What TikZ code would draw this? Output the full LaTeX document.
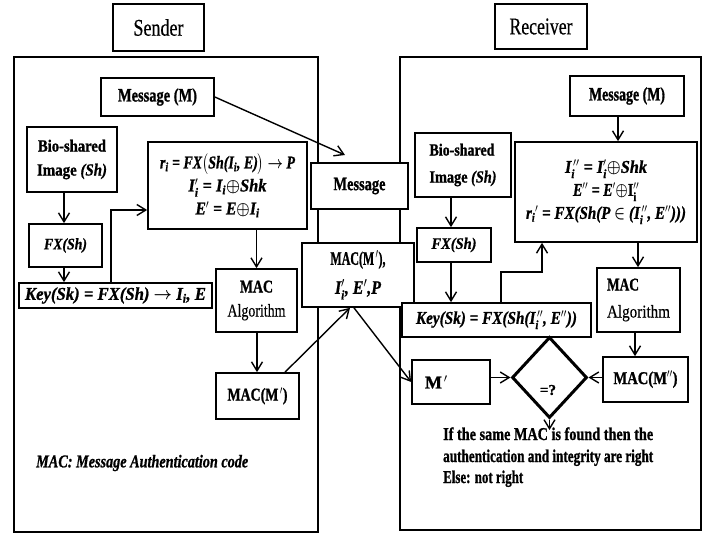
\documentclass[tikz,border=0pt]{standalone}
\usepackage{fontspec}
\usepackage{amsmath}
\setmainfont{Liberation Serif}[
  UprightFeatures={FakeBold=0.4},
  BoldFeatures={FakeBold=1.2},
  BoldItalicFeatures={FakeBold=1.0}]
\usetikzlibrary{arrows.meta,shapes.geometric,calc}
% set a line of text to a given width, keeping its height
\newcommand{\fitw}[2]{\resizebox{#1pt}{\height}{#2}}
\newcommand{\bo}[1]{\boldsymbol{#1}}
\begin{document}
\begin{tikzpicture}[x=1pt,y=-1pt,
  bx/.style={draw, line width=1.7pt, fill=white, inner sep=0pt, align=center},
  frame/.style={draw, line width=1.4pt, inner sep=0pt},
  link/.style={line width=1.4pt, -{Straight Barb[length=9pt,width=11pt,line width=1.4pt]}},
  ttl/.style={font=\fontsize{24}{28}\selectfont},
  lbl/.style={font=\fontsize{18}{23}\selectfont\bfseries},
  eqn/.style={font=\fontsize{18}{23}\selectfont\bfseries\itshape},
]
\fill[white] (0,0) rectangle (720,537);
\useasboundingbox (0,0) rectangle (720,537);

% titles and the two outer frames
\node[bx, ttl, minimum width=91pt, minimum height=47pt] (sendT) at (158.5,27.5) {\fitw{50}{Sender}};
\node[bx, ttl, minimum width=92pt, minimum height=45pt] (recvT) at (541,26.5) {\fitw{63}{Receiver}};
\node[frame, minimum width=304pt, minimum height=475pt] (sendF) at (166,294.5) {};
\node[frame, minimum width=301pt, minimum height=473pt] (recvF) at (550.5,293.5) {};

% sender side
\node[bx, lbl, font=\fontsize{19}{23}\selectfont\bfseries, minimum width=113pt, minimum height=38pt] (msgL) at (157.5,97) {\fitw{79}{Message (M)}};
\node[bx, lbl, font=\fontsize{17}{24}\selectfont\bfseries, minimum width=90pt, minimum height=65pt] (bioL) at (72,159.5)
  {\fitw{68}{Bio-shared}\\\fitw{70}{Image \textit{(Sh)}}};
\node[bx, eqn, font=\fontsize{16}{20}\selectfont\bfseries\itshape, minimum width=73pt, minimum height=43pt] (fxL) at (65.5,245.5) {\fitw{43}{FX(Sh)}};
\node[bx, eqn, minimum width=193pt, minimum height=25pt] (keyL) at (115.5,295.5)
  {\fitw{181}{Key(Sk) = FX(Sh) $\bo{\rightarrow}$ I\textsubscript{i}, E}};
\node[bx, eqn, minimum width=159pt, minimum height=87pt] (frmL) at (227.5,185.5)
  {\fitw{135}{r\textsubscript{i} = FX$\bo{\big(}$Sh(I\textsubscript{i}, E)$\bo{\big)}$ $\bo{\rightarrow}$ P}\\
   \fitw{78}{I$'_{\textit{i}}$ = I\textsubscript{i}$\bo{\oplus}$Shk}\\
   \fitw{64}{E$'$ = E$\bo{\oplus}$I\textsubscript{i}}};
\node[bx, font=\fontsize{18}{24}\selectfont, minimum width=81pt, minimum height=63pt] (algL) at (256.5,300.5)
  {\fitw{33}{\bfseries MAC}\\\fitw{58}{Algorithm}};
\node[bx, lbl, minimum width=83pt, minimum height=46pt] (macL) at (257.5,396) {\fitw{60}{MAC(M$^{\,\prime}$)}};
\node[inner sep=0pt, anchor=west, font=\fontsize{18}{22}\selectfont\bfseries\itshape] (note) at (36,463)
  {\fitw{212}{MAC: Message Authentication code}};

% exchanged between the two sides
\node[bx, lbl, font=\fontsize{19}{23}\selectfont\bfseries, minimum width=97pt, minimum height=46pt] (msgM) at (359.5,186) {\fitw{52}{Message}};
\node[bx, lbl, font=\fontsize{19}{29}\selectfont\bfseries, minimum width=112pt, minimum height=64pt] (macM) at (358,275)
  {\fitw{55}{MAC(M$^{\,\prime}$),}\\\fitw{46}{\itshape I$'_{\textit{i}}$, E$'$,P}};

% receiver side
\node[bx, lbl, font=\fontsize{19}{23}\selectfont\bfseries, minimum width=114pt, minimum height=40pt] (msgR) at (627,96) {\fitw{76}{Message (M)}};
\node[bx, lbl, font=\fontsize{17}{27}\selectfont\bfseries, align=left, minimum width=96pt, minimum height=64pt] (bioR) at (463,165)
  {\fitw{65}{Bio-shared}\\\fitw{67}{Image \textit{(Sh)}}};
\node[bx, eqn, font=\fontsize{16}{20}\selectfont\bfseries\itshape, minimum width=74pt, minimum height=34pt] (fxR) at (454,245) {\fitw{45}{FX(Sh)}};
\node[bx, eqn, minimum width=182pt, minimum height=100pt] (frmR) at (606,192)
  {\fitw{82}{I$_{\textit{i}}^{\,\prime\prime}$ = I$'_{\textit{i}}$$\bo{\oplus}$Shk}\\
   \fitw{66}{E$''$ = E$'$$\bo{\oplus}$\textup{I}$''_{\textup{i}}$}\\
   \fitw{160}{r\textsubscript{i}$'$ = FX(Sh(P $\bo{\in}$ (I$_{\textit{i}}^{\,\prime\prime}$, E$''$)))}};
\node[bx, eqn, minimum width=189pt, minimum height=34pt] (keyR) at (496.5,320)
  {\fitw{161}{Key(Sk) = FX(Sh(I$_{\textit{i}}^{\,\prime\prime}$, E$''$))}};
\node[bx, font=\fontsize{18}{27}\selectfont, align=left, minimum width=83pt, minimum height=64pt] (algR) at (638.5,300)
  {\fitw{32}{\bfseries MAC}\\\fitw{63}{Algorithm}};
\node[bx, lbl, minimum width=85pt, minimum height=45pt] (macR) at (645.5,379.5) {\fitw{64}{MAC(M$^{\prime\prime}$)}};
\node[bx, lbl, minimum width=78pt, minimum height=44pt] (Mp) at (451,382) {\makebox[52pt][l]{M$^{\,\prime}$}};
\node[draw, diamond, line width=3pt, inner sep=0pt, minimum width=75pt, minimum height=81pt] (dia) at (549.5,377.5) {};
\node[inner sep=0pt, font=\fontsize{15}{18}\selectfont\bfseries] (eq) at (548,390) {=?};
\node[inner sep=0pt, anchor=base west, font=\fontsize{18}{22}\selectfont\bfseries] (res1) at (443,440) {\fitw{210}{If the same MAC is found then the}};
\node[inner sep=0pt, anchor=base west, font=\fontsize{18}{22}\selectfont\bfseries] (res2) at (443,462) {\fitw{210}{authentication and integrity are right}};
\node[inner sep=0pt, anchor=base west, font=\fontsize{18}{22}\selectfont\bfseries] (res3) at (443,483) {\fitw{80}{Else: not right}};

% connectors, sender side
\coordinate (tipMsg) at (345,155);
\draw[link] (msgL.east) -- (tipMsg);
\draw[link] (bioL.south -| 64,0) -- (fxL.north -| 64,0);
\draw[link] (fxL.south -| 64,0) -- (keyL.north -| 64,0);
\draw[link] (keyL.north -| 111,0) |- (frmL.west |- 0,210);
\draw[link] (frmL.south -| algL.north) -- (algL.north);
\draw[link] (algL.south -| 257,0) -- (macL.north -| 257,0);
\draw[link] (macL.north -| 285,0) -- (macM.south -| 350,0);
\draw[link] (macM.south -| 354,0) -- (Mp.west);

% connectors, receiver side
\coordinate (kbend) at (542,272);
\draw[link] (msgR.south -| 618,0) -- (frmR.north -| 618,0);
\draw[link] (bioR.south -| 451,0) -- (fxR.north -| 451,0);
\draw[link] (fxR.south -| 451,0) -- (keyR.north -| 451,0);
\draw[link] (keyR.north -| 501,0) |- (kbend) -- (frmR.south -| kbend);
\draw[link] (frmR.south -| 638,0) -- (algR.north -| 638,0);
\draw[link] (algR.south -| 635,0) -- (macR.north -| 635,0);
\draw[link] (Mp.east |- dia.west) -- (dia.west);
\draw[link] (macR.west |- dia.east) -- (dia.east);
\coordinate (resTop) at (549.5,430);
\draw[link] (dia.south) -- (resTop);
\end{tikzpicture}
\end{document}
